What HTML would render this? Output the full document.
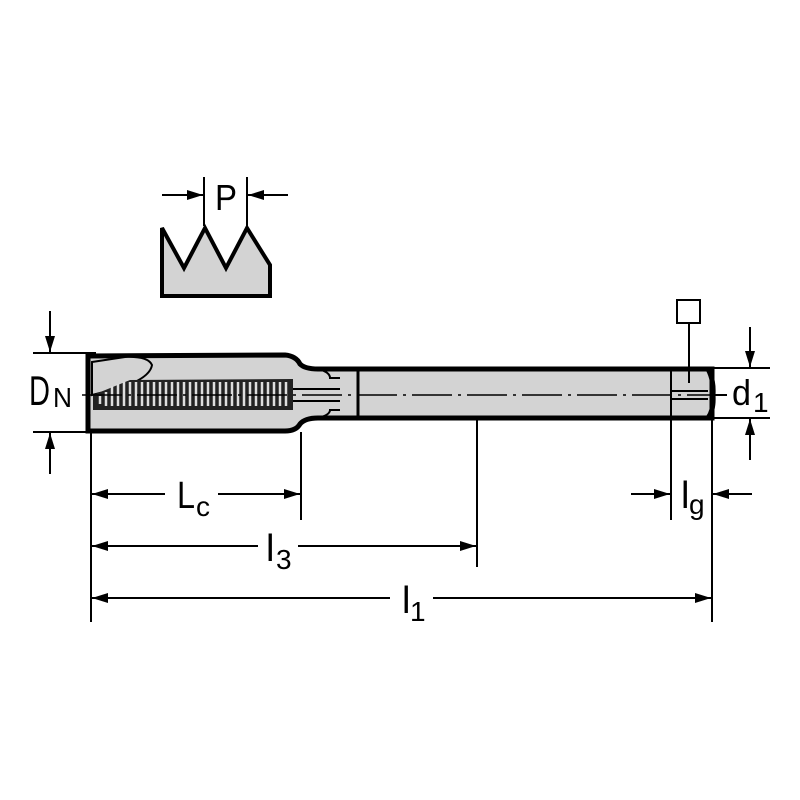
<!DOCTYPE html>
<html><head><meta charset="utf-8"><style>html,body{margin:0;padding:0;background:#fff}svg{display:block}</style></head>
<body>
<svg width="800" height="800" viewBox="0 0 800 800" xmlns="http://www.w3.org/2000/svg" font-family="Liberation Sans, sans-serif">
<defs>
<marker id="a" markerWidth="16" markerHeight="10" refX="16" refY="5" orient="auto" markerUnits="userSpaceOnUse"><path d="M0,0 L16,5 L0,10 z" fill="#000"/></marker>
</defs>
<polygon points="162,228 184,268 205,228 226,268 247,228 270,265 270,296 162,296" fill="#d3d3d3" stroke="#000" stroke-width="4" stroke-linejoin="miter"/>
<line x1="204" y1="177" x2="204" y2="226" stroke="#000" stroke-width="2"/>
<line x1="247" y1="177" x2="247" y2="226" stroke="#000" stroke-width="2"/>
<line x1="162" y1="195" x2="203" y2="195" stroke="#000" stroke-width="2" marker-end="url(#a)"/>
<line x1="288" y1="195" x2="248" y2="195" stroke="#000" stroke-width="2" marker-end="url(#a)"/>
<text x="215" y="210" font-size="36" textLength="22" lengthAdjust="spacingAndGlyphs">P</text>

<path d="M88,356 L285,355 Q296,356 300,364 Q305,369 318,369 L712,369 L712,418 L318,418 Q305,418 300,424 Q296,431 285,431 L88,431 Z" fill="#d3d3d3" stroke="#000" stroke-width="5"/>
<line x1="88" y1="354" x2="88" y2="431" stroke="#000" stroke-width="5"/>
<line x1="358" y1="369" x2="358" y2="418" stroke="#000" stroke-width="3"/>
<path d="M318,369 Q330,372 330,378 L340,378" fill="none" stroke="#000" stroke-width="2"/>
<path d="M318,418 Q330,415 330,410 L340,410" fill="none" stroke="#000" stroke-width="2"/>
<path d="M92,362 L125,357 Q148,356 152,365 Q150,378 120,388 L92,395 Z" fill="#d3d3d3" stroke="#000" stroke-width="2"/>
<path d="M93,395 L130,380 L293,379 L293,410 L93,410 Z" fill="#222"/>
<g stroke="#ddd" stroke-width="2.5" fill="none">
<path d="M100,404 v-8 M106,406 v-14 M112,406 v-20 M118,406 v-22 M124,406 v-24 M130,406 v-24 M136,406 v-24 M142,406 v-24 M148,406 v-24 M154,406 v-24 M160,406 v-24 M166,406 v-24 M172,406 v-24 M178,406 v-24 M184,406 v-24 M190,406 v-24 M196,406 v-24 M202,406 v-24 M208,406 v-24 M214,406 v-24 M220,406 v-24 M226,406 v-24 M232,406 v-24 M238,406 v-24 M244,406 v-24 M250,406 v-24 M256,406 v-24 M262,406 v-24 M268,406 v-24 M274,406 v-24 M280,406 v-24 M286,406 v-24"/>
</g>
<line x1="293" y1="389" x2="340" y2="389" stroke="#000" stroke-width="2"/>
<line x1="293" y1="401" x2="340" y2="401" stroke="#000" stroke-width="2"/>
<line x1="82" y1="395" x2="728" y2="395" stroke="#000" stroke-width="1.5" stroke-dasharray="40,6,3,6"/>
<line x1="671" y1="369" x2="671" y2="418" stroke="#000" stroke-width="2"/>
<line x1="671" y1="391" x2="708" y2="391" stroke="#000" stroke-width="2"/>
<line x1="671" y1="399" x2="708" y2="399" stroke="#000" stroke-width="2"/>
<path d="M708,369 Q714,380 713,395 Q714,410 708,418" fill="none" stroke="#000" stroke-width="5"/>
<rect x="677" y="300" width="23" height="23" fill="#fff" stroke="#000" stroke-width="2"/>
<line x1="689" y1="323" x2="689" y2="383" stroke="#000" stroke-width="2"/>

<line x1="33" y1="353" x2="96" y2="353" stroke="#000" stroke-width="2"/>
<line x1="33" y1="432" x2="96" y2="432" stroke="#000" stroke-width="2"/>
<line x1="50" y1="311" x2="50" y2="352" stroke="#000" stroke-width="2" marker-end="url(#a)"/>
<line x1="50" y1="474" x2="50" y2="433" stroke="#000" stroke-width="2" marker-end="url(#a)"/>
<text x="29" y="405" font-size="42" textLength="21" lengthAdjust="spacingAndGlyphs">D</text>
<text x="53" y="407" font-size="28" textLength="19" lengthAdjust="spacingAndGlyphs">N</text>

<line x1="712" y1="368" x2="770" y2="368" stroke="#000" stroke-width="2"/>
<line x1="712" y1="418" x2="770" y2="418" stroke="#000" stroke-width="2"/>
<line x1="750" y1="327" x2="750" y2="367" stroke="#000" stroke-width="2" marker-end="url(#a)"/>
<line x1="750" y1="460" x2="750" y2="419" stroke="#000" stroke-width="2" marker-end="url(#a)"/>
<line x1="712" y1="395" x2="727" y2="395" stroke="#000" stroke-width="2"/>
<text x="732" y="405" font-size="36" textLength="19" lengthAdjust="spacingAndGlyphs">d</text>
<text x="753" y="412" font-size="28">1</text>

<line x1="91" y1="432" x2="91" y2="622" stroke="#000" stroke-width="2"/>
<line x1="301" y1="432" x2="301" y2="520" stroke="#000" stroke-width="2"/>
<line x1="477" y1="418" x2="477" y2="567" stroke="#000" stroke-width="2"/>
<line x1="671" y1="418" x2="671" y2="520" stroke="#000" stroke-width="2"/>
<line x1="712" y1="418" x2="712" y2="622" stroke="#000" stroke-width="2"/>

<line x1="165" y1="494" x2="92" y2="494" stroke="#000" stroke-width="2" marker-end="url(#a)"/>
<line x1="218" y1="494" x2="300" y2="494" stroke="#000" stroke-width="2" marker-end="url(#a)"/>
<text x="177" y="508" font-size="38" textLength="18" lengthAdjust="spacingAndGlyphs">L</text>
<text x="196" y="516" font-size="28" textLength="14" lengthAdjust="spacingAndGlyphs">c</text>
<line x1="258" y1="546" x2="92" y2="546" stroke="#000" stroke-width="2" marker-end="url(#a)"/>
<line x1="298" y1="546" x2="476" y2="546" stroke="#000" stroke-width="2" marker-end="url(#a)"/>
<text x="266" y="561" font-size="38">l</text>
<text x="276" y="569" font-size="28">3</text>
<line x1="390" y1="598" x2="92" y2="598" stroke="#000" stroke-width="2" marker-end="url(#a)"/>
<line x1="433" y1="598" x2="711" y2="598" stroke="#000" stroke-width="2" marker-end="url(#a)"/>
<text x="402" y="613" font-size="38">l</text>
<text x="410" y="621" font-size="28">1</text>
<line x1="631" y1="494" x2="670" y2="494" stroke="#000" stroke-width="2" marker-end="url(#a)"/>
<line x1="752" y1="494" x2="713" y2="494" stroke="#000" stroke-width="2" marker-end="url(#a)"/>
<text x="681" y="508" font-size="38">l</text>
<text x="689" y="514" font-size="28">g</text>
</svg>
</body></html>
